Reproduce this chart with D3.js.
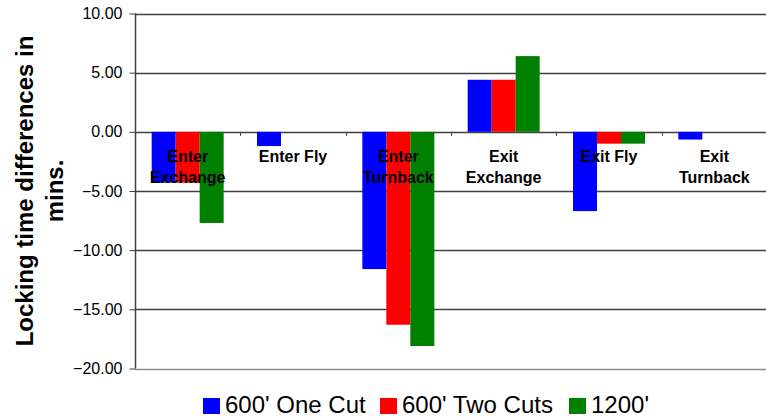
<!DOCTYPE html>
<html>
<head>
<meta charset="utf-8">
<script src="https://cdn.jsdelivr.net/npm/d3@7"></script>
<style>
  body { margin: 0; background: #fff; }
  svg { display: block; font-family: "Liberation Sans", Arial, sans-serif; }
</style>
</head>
<body>
<div id="chart"></div>
<script>
// chart data
const categories = [["Enter", "Exchange"], ["Enter Fly"], ["Enter", "Turnback"], ["Exit", "Exchange"], ["Exit Fly"], ["Exit", "Turnback"]];
const seriesNames = ["600' One Cut", "600' Two Cuts", "1200'"];
const oneCut = [-4.3, -1.2, -11.6, 4.4, -6.7, -0.65];
const twoCuts = [-4.3, 0, -16.3, 4.4, -1.0, 0];
const long1200 = [-7.7, 0, -18.1, 6.4, -1.0, 0];
const yTicks = [10, 5, 0, -5, -10, -15, -20];
const colors = ["#0000ff", "#ff0000", "#008000"];

const width = 766, height = 418;
const margin = { top: 13, right: 0, bottom: 49, left: 135 };
const series = [oneCut, twoCuts, long1200];

const svg = d3.select("#chart").append("svg")
    .attr("width", width)
    .attr("height", height);

const x = d3.scaleBand()
    .domain(d3.range(categories.length))
    .range([margin.left, 767]);

const y = d3.scaleLinear()
    .domain([-20, 10])
    .range([height - margin.bottom - 0.5, margin.top + 0.5]);

const barW = 24;
const groupOffset = (x.bandwidth() - barW * 3) / 2;

// gridlines
svg.append("g")
    .selectAll("line")
    .data(yTicks.filter(t => t !== -20))
    .join("line")
    .attr("x1", margin.left)
    .attr("x2", width)
    .attr("y1", d => Math.round(y(d)) + 0.5)
    .attr("y2", d => Math.round(y(d)) + 0.5)
    .attr("stroke", "#404040")
    .attr("stroke-width", 1.3);

svg.append("line")
    .attr("x1", margin.left)
    .attr("x2", width)
    .attr("y1", Math.round(y(-20)) + 0.5)
    .attr("y2", Math.round(y(-20)) + 0.5)
    .attr("stroke", "#8c8c8c")
    .attr("stroke-width", 1.5);

// bars
series.forEach((vals, s) => {
    svg.append("g")
        .selectAll("rect")
        .data(vals)
        .join("rect")
        .attr("x", (d, i) => x(i) + groupOffset + s * barW)
        .attr("width", barW)
        .attr("y", d => y(Math.max(0, d)))
        .attr("height", d => Math.abs(y(d) - y(0)))
        .attr("fill", colors[s]);
});

// y axis
svg.append("g")
    .attr("transform", `translate(${margin.left + 0.5},0)`)
    .call(d3.axisLeft(y).tickValues(yTicks).tickFormat(d3.format(".2f")).tickSize(6).tickPadding(7))
    .call(g => g.select(".domain").attr("stroke", "#404040").attr("stroke-width", 1.5).attr("d", `M0,${y(10)}V${y(-20)}`))
    .call(g => g.selectAll(".tick line").attr("stroke", "#404040"))
    .call(g => g.selectAll(".tick text").attr("font-size", 16).attr("fill", "#000")
        .attr("font-family", "Liberation Sans, Arial, sans-serif"));

// category ticks on the zero line
svg.append("g")
    .selectAll("line")
    .data(d3.range(1, categories.length))
    .join("line")
    .attr("x1", i => Math.round(x(i)) + 0.5)
    .attr("x2", i => Math.round(x(i)) + 0.5)
    .attr("y1", y(0))
    .attr("y2", y(0) + 4)
    .attr("stroke", "#404040");

// category labels
const labels = svg.append("g")
    .attr("font-size", 16)
    .attr("font-weight", "bold")
    .attr("text-anchor", "middle")
    .attr("fill", "#000");

categories.forEach((lines, i) => {
    const t = labels.append("text")
        .attr("x", x(i) + x.bandwidth() / 2)
        .attr("y", y(0) + 30.5);
    lines.forEach((ln, j) => {
        t.append("tspan")
            .attr("x", x(i) + x.bandwidth() / 2)
            .attr("dy", j === 0 ? 0 : 20.5)
            .text(ln);
    });
});

// y axis title
const title = svg.append("text")
    .attr("transform", `translate(0,${(y(10) + y(-20)) / 2}) rotate(-90)`)
    .attr("text-anchor", "middle")
    .attr("font-size", 24)
    .attr("font-weight", "bold")
    .attr("fill", "#000");
title.append("tspan").attr("x", 0).attr("y", 33).text("Locking time differences in");
title.append("tspan").attr("x", 0).attr("y", 63).text("mins.");

// legend
const legendX = [203, 380, 569];
const legend = svg.append("g")
    .selectAll("g")
    .data(seriesNames)
    .join("g")
    .attr("transform", (d, i) => `translate(${legendX[i]},398)`);

legend.append("rect")
    .attr("width", 17)
    .attr("height", 16)
    .attr("fill", (d, i) => colors[i]);

legend.append("text")
    .attr("x", 22)
    .attr("y", 15)
    .attr("font-size", 24)
    .attr("fill", "#000")
    .text(d => d);
</script>
</body>
</html>
